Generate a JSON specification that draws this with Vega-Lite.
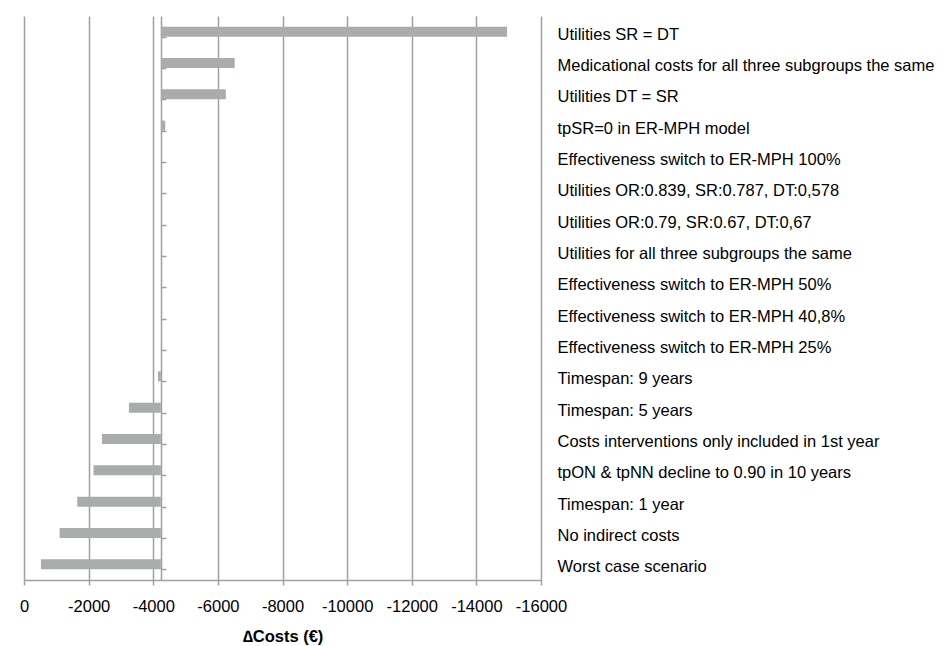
{
  "$schema": "https://vega.github.io/schema/vega-lite/v6.json",
  "width": 517,
  "height": 564,
  "autosize": {"type": "none"},
  "padding": {"left": 24, "top": 16, "right": 406, "bottom": 66},
  "background": "white",
  "config": {
    "view": {"stroke": null},
    "font": "Liberation Sans",
    "axis": {"labelFont": "Liberation Sans", "titleFont": "Liberation Sans"}
  },
  "data": {
    "values": [
      {"scenario": "Utilities SR = DT", "value": -14950, "base": -4235},
      {"scenario": "Medicational costs for all three subgroups the same", "value": -6520, "base": -4235},
      {"scenario": "Utilities DT = SR", "value": -6245, "base": -4235},
      {"scenario": "tpSR=0 in ER-MPH model", "value": -4370, "base": -4235},
      {"scenario": "Effectiveness switch to ER-MPH 100%", "value": -4235, "base": -4235},
      {"scenario": "Utilities OR:0.839, SR:0.787, DT:0,578", "value": -4235, "base": -4235},
      {"scenario": "Utilities OR:0.79, SR:0.67, DT:0,67", "value": -4235, "base": -4235},
      {"scenario": "Utilities for all three subgroups the same", "value": -4235, "base": -4235},
      {"scenario": "Effectiveness switch to ER-MPH 50%", "value": -4235, "base": -4235},
      {"scenario": "Effectiveness switch to ER-MPH 40,8%", "value": -4235, "base": -4235},
      {"scenario": "Effectiveness switch to ER-MPH 25%", "value": -4235, "base": -4235},
      {"scenario": "Timespan: 9 years", "value": -4145, "base": -4235},
      {"scenario": "Timespan: 5 years", "value": -3246, "base": -4235},
      {"scenario": "Costs interventions only included in 1st year", "value": -2411, "base": -4235},
      {"scenario": "tpON & tpNN decline to 0.90 in 10 years", "value": -2152, "base": -4235},
      {"scenario": "Timespan: 1 year", "value": -1648, "base": -4235},
      {"scenario": "No indirect costs", "value": -1101, "base": -4235},
      {"scenario": "Worst case scenario", "value": -525, "base": -4235}
    ]
  },
  "encoding": {
    "y": {
      "field": "scenario",
      "type": "nominal",
      "sort": null,
      "scale": {"paddingInner": 0.68, "paddingOuter": 0.34}
    }
  },
  "layer": [
    {
      "mark": {"type": "bar", "color": "#a9acac"},
      "encoding": {
        "x": {
          "field": "value",
          "type": "quantitative",
          "scale": {"domain": [-16000, 0], "reverse": true, "nice": false, "zero": false},
          "axis": {
            "values": [0, -2000, -4000, -6000, -8000, -10000, -12000, -14000, -16000],
            "labelExpr": "'' + datum.value",
            "labelOverlap": false,
            "labelBound": false,
            "labelFlush": false,
            "title": "∆Costs (€)",
            "titleFontSize": 16.5,
            "titleFontWeight": "bold",
            "titleColor": "#000",
            "titlePadding": 14,
            "labelFontSize": 16.5,
            "labelColor": "#000",
            "labelPadding": 13,
            "tickSize": 5,
            "tickColor": "#a0a0a0",
            "domainColor": "#a0a0a0",
            "domainWidth": 1.5,
            "tickWidth": 1.5,
            "grid": true,
            "gridColor": "#a0a0a0",
            "gridWidth": 1.5
          }
        },
        "x2": {"field": "base"},
        "y": {
          "field": "scenario",
          "type": "nominal",
          "sort": null,
          "axis": {
            "orient": "left",
            "offset": -137,
            "labels": false,
            "title": null,
            "grid": false,
            "tickBand": "extent",
            "tickSize": -5,
            "tickColor": "#a0a0a0",
            "tickWidth": 1.5,
            "domainColor": "#a0a0a0",
            "domainWidth": 1.5
          }
        }
      }
    },
    {
      "mark": {"type": "bar", "opacity": 0},
      "encoding": {
        "x": {"field": "value", "type": "quantitative"},
        "x2": {"field": "base"},
        "y": {
          "field": "scenario",
          "type": "nominal",
          "sort": null,
          "axis": {
            "orient": "right",
            "title": null,
            "domain": false,
            "ticks": false,
            "grid": false,
            "labelPadding": 16,
            "labelOffset": 3,
            "labelFontSize": 16.5,
            "labelColor": "#000",
            "labelLimit": 0
          }
        }
      }
    }
  ],
  "resolve": {"axis": {"y": "independent"}}
}
